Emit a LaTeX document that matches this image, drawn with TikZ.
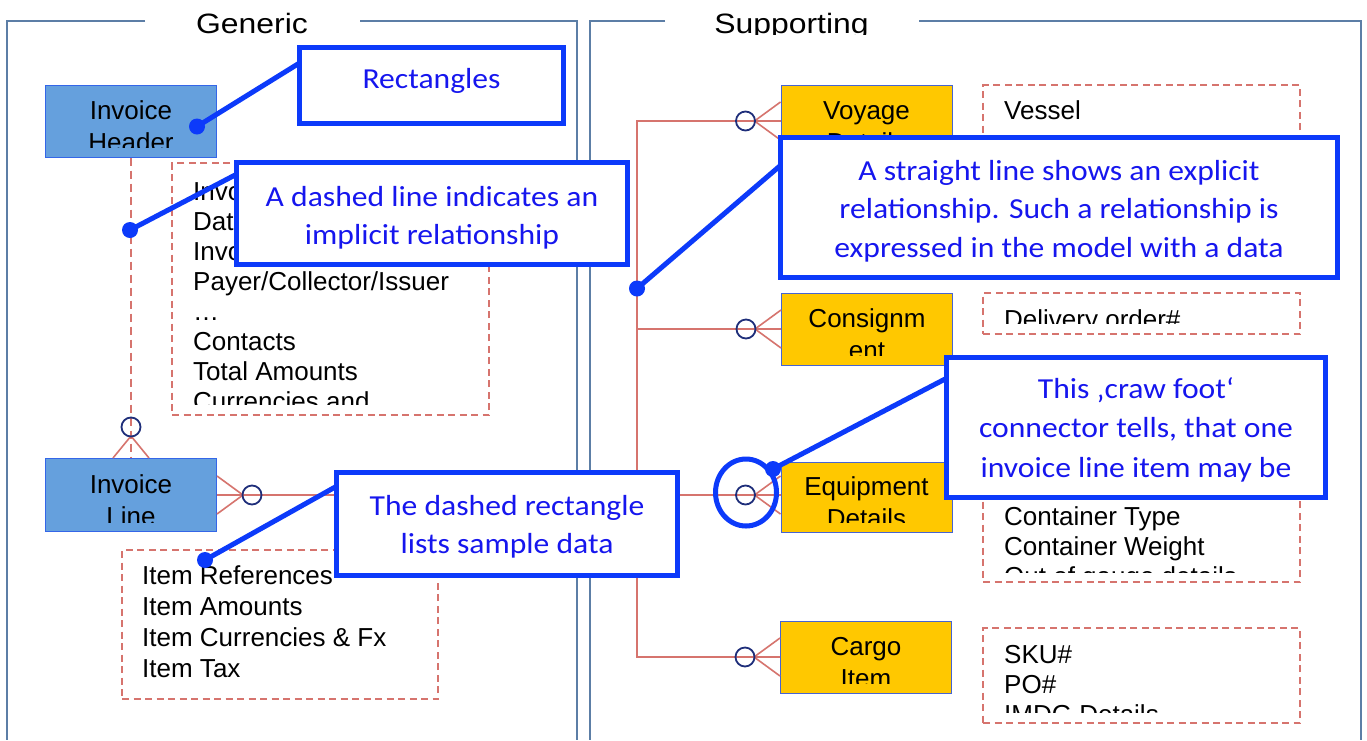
\documentclass[tikz,border=0pt]{standalone}
\usepackage{fontspec}
\setmainfont{Liberation Sans}
\newfontfamily\calloutfont{Carlito}
\usetikzlibrary{calc}

\definecolor{framec}{RGB}{92,126,166}
\definecolor{relc}{RGB}{214,116,110}
\definecolor{ringc}{RGB}{30,46,122}
\definecolor{invfill}{RGB}{101,160,221}
\definecolor{invdraw}{RGB}{52,102,232}
\definecolor{supfill}{RGB}{255,200,0}
\definecolor{supdraw}{RGB}{70,100,210}
\definecolor{notec}{RGB}{12,58,250}
\definecolor{notetextc}{RGB}{22,22,238}

\tikzset{
  frameline/.style={draw=framec, line width=1.8pt},
  title/.style={font=\fontsize{28}{32}\selectfont, xscale=1.14, anchor=base, inner sep=0pt},
  invent/.style={draw=invdraw, fill=invfill, line width=1pt, minimum width=171pt, minimum height=72pt, inner sep=0pt},
  supent/.style={draw=supdraw, fill=supfill, line width=1pt, minimum width=171pt, minimum height=72pt, inner sep=0pt},
  enttext/.style={font=\fontsize{26}{30}\selectfont, anchor=base, inner sep=0pt},
  listtext/.style={font=\fontsize{26}{30}\selectfont, anchor=base west, inner sep=0pt},
  samplebox/.style={draw=relc, line width=1.6pt, dash pattern=on 7pt off 4.5pt, inner sep=0pt},
  rel/.style={draw=relc, line width=2pt},
  implicit/.style={rel, line width=1.8pt, dash pattern=on 8pt off 5pt},
  crowline/.style={draw=relc, line width=1.6pt},
  crowring/.style={draw=ringc, line width=1.8pt},
  note/.style={draw=notec, fill=white, line width=5pt, inner sep=0pt},
  notetext/.style={font=\calloutfont\fontsize{29}{35}\selectfont, text=notetextc, xscale=1.09, anchor=base, inner sep=0pt},
  pointer/.style={draw=notec, line width=5pt},
  pin/.style={fill=notec},
  crowfoot/.pic={
    \draw[crowline] (0,19) -- (26,0) -- (0,-19);
    \draw[crowring] (35,0) circle[radius=9.5];
  },
  crowfootshort/.pic={
    \draw[crowline] (0,18) -- (22,0) -- (0,-18);
    \draw[crowring] (31,0) circle[radius=9.5];
  }
}

\begin{document}
\begin{tikzpicture}[x=1pt,y=-1pt]
\useasboundingbox (0,0) rectangle (1367,740);
\fill[white] (0,0) rectangle (1367,740);

% group frames
\draw[frameline] (145,21) -- (7,21) -- (7,740);
\draw[frameline] (360,21) -- (577,21) -- (577,740);
\draw[frameline] (665,21) -- (590,21) -- (590,740);
\draw[frameline] (919,21) -- (1361,21) -- (1361,740);

\begin{scope}
  \clip (0,0) rectangle (1367,34);
  \node[title] (tgen) at (252,33) {Generic};
  \node[title] (tsup) at (791.5,33) {Supporting};
\end{scope}

% sample data boxes
\node[samplebox, minimum width=317pt, minimum height=252pt] (hsample) at (330.5,289) {};
\begin{scope}
  \clip (hsample.north west) rectangle ([yshift=11pt]hsample.south east);
  \foreach \txt [count=\k from 0] in {Invoice No., Date, Invoice Type, Payer/Collector/Issuer, …, Contacts, Total Amounts, Currencies and}
    \node[listtext] (hs-\k) at (193,200+30*\k) {\txt};
\end{scope}

\node[samplebox, minimum width=316pt, minimum height=149pt] (lsample) at (280,624.5) {};
\begin{scope}
  \clip (lsample.north west) rectangle ([yshift=11pt]lsample.south east);
  \foreach \txt [count=\k from 0] in {Item References, Item Amounts, Item Currencies \& Fx, Item Tax}
    \node[listtext] (ls-\k) at (142,584+31*\k) {\txt};
\end{scope}

\node[samplebox, minimum width=317pt, minimum height=165pt] (vsample) at (1141.5,167.5) {};
\node[listtext] (vs-0) at (1004,119) {Vessel};

\node[samplebox, minimum width=317pt, minimum height=41pt] (csample) at (1141.5,313.5) {};
\begin{scope}
  \clip (csample.north west) rectangle ([yshift=11pt]csample.south east);
  \node[listtext] (cs-0) at (1004,328) {Delivery order\#};
\end{scope}

\node[samplebox, minimum width=317pt, minimum height=120pt] (esample) at (1141.5,522) {};
\begin{scope}
  \clip (esample.north west) rectangle ([yshift=10pt]esample.south east);
  \foreach \txt [count=\k from 0] in {Container Type, Container Weight, Out of gauge details}
    \node[listtext] (es-\k) at (1004,525+30*\k) {\txt};
\end{scope}

\node[samplebox, minimum width=317pt, minimum height=95pt] (gsample) at (1141.5,675.5) {};
\begin{scope}
  \clip (gsample.north west) rectangle ([yshift=11pt]gsample.south east);
  \foreach \txt [count=\k from 0] in {SKU\#, PO\#, IMDG Details}
    \node[listtext] (gs-\k) at (1004,663+30*\k) {\txt};
\end{scope}

% entities
\node[invent] (hdr) at (131,121) {};
\node[invent, minimum height=73pt] (iline) at (131,495) {};
\node[supent] (voy) at (866.5,121) {};
\node[supent] (cons) at (867,329) {};
\node[supent, minimum height=70pt] (equip) at (866.5,497) {};
\node[supent] (cargo) at (866,657) {};

% relationships
\coordinate (trunk) at (637,0);
\draw[implicit] (hdr.south) -- (iline.north);
\draw[rel] (iline.east) -- (iline.east -| equip.west);
\draw[rel] (voy.west) -- (voy.west -| trunk) -- (cargo.west -| trunk) -- (cargo.west);
\draw[rel] (cons.west) -- (cons.west -| trunk);

\pic[rotate=90] at (iline.north) {crowfootshort};
\pic at (iline.east) {crowfoot};
\pic[rotate=180] at (voy.west) {crowfoot};
\pic[rotate=180] at (cons.west) {crowfoot};
\pic[rotate=180] at (iline.east -| equip.west) {crowfoot};
\pic[rotate=180] at (cargo.west) {crowfoot};

% entity names, clipped to their boxes
\foreach \ent/\first/\second in {hdr/Invoice/Header, iline/Invoice/Line, voy/Voyage/Details, cons/Consignm/ent, equip/Equipment/Details, cargo/Cargo/Item}{
  \begin{scope}
    \clip (\ent.north west) rectangle ([yshift=10pt]\ent.south east);
    \node[enttext] (\ent-a) at ([yshift=2pt]\ent.center) {\first};
    \node[enttext] (\ent-b) at ([yshift=-30pt]\ent.center) {\second};
  \end{scope}
}

% callouts: pointers first, so the white boxes hide their ends
\coordinate (pin1) at (197,126.5);
\coordinate (pin2) at (130,230);
\coordinate (pin3) at (637,288.5);
\coordinate (pin4) at (773,469);
\coordinate (pin5) at (205,560);

\coordinate (c1nw) at (299.5,63);
\coordinate (c2nw) at (237,174);
\coordinate (c3nw) at (781,165);
\coordinate (c4nw) at (947,378);
\coordinate (c5nw) at (337,486);

\draw[pointer] (c1nw) -- (pin1);
\draw[pointer] (c2nw) -- (pin2);
\draw[pointer] (c3nw) -- (pin3);
\draw[pointer] (c4nw) -- (pin4);
\draw[pointer] (c5nw) -- (pin5);

\node[note, minimum width=264pt, minimum height=76pt] (c1) at (431.5,85.5) {};
\node[note, minimum width=391pt, minimum height=102pt] (c2) at (432,213.5) {};
\node[note, minimum width=557pt, minimum height=140pt] (c3) at (1059,207.5) {};
\node[note, minimum width=379pt, minimum height=140pt] (c4) at (1136,427.5) {};
\node[note, minimum width=341pt, minimum height=103pt] (c5) at (507,524) {};

\foreach \p in {pin1,pin2,pin3,pin4,pin5}
  \fill[pin] (\p) circle[radius=8];

\draw[pointer] (746,492.5) ellipse[x radius=30.5, y radius=33.5];

\node[notetext] (c1a) at (431.5,88) {Rectangles};
\node[notetext] (c2a) at (432,206) {A dashed line indicates an};
\node[notetext] (c2b) at (432,244) {implicit relationship};
\node[notetext] (c3a) at (1059,180) {A straight line shows an explicit};
\node[notetext] (c3b) at (1059,218.5) {relationship. Such a relationship is};
\node[notetext] (c3c) at (1059,257) {expressed in the model with a data};
\node[notetext] (c4a) at (1136,398) {This ‚craw foot‘};
\node[notetext] (c4b) at (1136,437.5) {connector tells, that one};
\node[notetext] (c4c) at (1136,477) {invoice line item may be};
\node[notetext] (c5a) at (507,515) {The dashed rectangle};
\node[notetext] (c5b) at (507,553.5) {lists sample data};
\end{tikzpicture}
\end{document}
